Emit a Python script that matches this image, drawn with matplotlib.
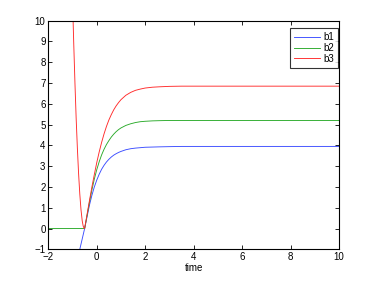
import matplotlib
matplotlib.use("Agg")
import matplotlib.pyplot as plt

plt.rcParams['font.family'] = ['Liberation Sans', 'DejaVu Sans']

# shared time grid for the rising part
t_rise = [-0.5, -0.4, -0.3, -0.2, -0.1, 0.0, 0.1, 0.2, 0.3, 0.4, 0.5, 0.6, 0.7,
          0.8, 0.9, 1.0, 1.2, 1.4, 1.6, 1.8, 2.0, 2.3, 2.6, 3.0, 3.5, 4.0, 5.0,
          6.0, 8.0, 10.0]

# b1 (blue)
t_b1 = [-0.75, -0.7, -0.6] + t_rise
y_b1 = [-1.25, -1.0, -0.5,
        0.0, 0.57, 1.13, 1.6, 2.0, 2.33, 2.61, 2.85, 3.04, 3.2, 3.33, 3.44, 3.53,
        3.6, 3.66, 3.71, 3.79, 3.84, 3.87, 3.89, 3.91, 3.92, 3.93, 3.94, 3.95,
        3.95, 3.95, 3.95, 3.95, 3.95]

# b2 (green)
t_b2 = [-2.0] + t_rise
y_b2 = [0.0,
        0.0, 0.63, 1.27, 1.86, 2.38, 2.83, 3.21, 3.54, 3.81, 4.04, 4.23, 4.4,
        4.54, 4.66, 4.76, 4.84, 4.96, 5.04, 5.1, 5.14, 5.16, 5.18, 5.19, 5.2,
        5.2, 5.2, 5.2, 5.2, 5.2, 5.2]

# b3 (red)
t_b3 = [-1.05, -1.0, -0.95, -0.9, -0.85, -0.8, -0.75, -0.7, -0.65, -0.6,
        -0.56, -0.53] + t_rise
y_b3 = [13.4, 11.0, 8.9, 7.0, 5.3, 3.87, 2.65, 1.66, 0.9, 0.37,
        0.12, 0.03,
        0.0, 0.68, 1.35, 2.0, 2.6, 3.17, 3.68, 4.14, 4.55, 4.91, 5.22, 5.48,
        5.71, 5.9, 6.06, 6.2, 6.41, 6.55, 6.65, 6.71, 6.76, 6.8, 6.82, 6.84,
        6.85, 6.85, 6.85, 6.85, 6.85, 6.85]

labels = ['b1', 'b2', 'b3']
colors = ['#3a4cff', '#2aaa2a', '#ff2a2a']

fig = plt.figure(figsize=(3.74, 2.81), dpi=100)
ax = fig.add_axes([48.3 / 374, 1 - 249.3 / 281, (339 - 48.3) / 374, (249.3 - 20.7) / 281])

for t, y, lab, c in zip([t_b1, t_b2, t_b3], [y_b1, y_b2, y_b3], labels, colors):
    ax.plot(t, y, color=c, lw=0.65, label=lab)

ax.set_xlim(-2, 10)
ax.set_ylim(-1, 10)
ax.set_xticks(range(-2, 11, 2))
ax.set_yticks(range(-1, 11))
ax.tick_params(direction='in', top=True, right=True, length=3, width=0.6,
               labelsize=7, pad=2)
for s in ax.spines.values():
    s.set_linewidth(0.8)
ax.set_xlabel('time', fontsize=7, labelpad=1)

leg = ax.legend(loc='upper right', bbox_to_anchor=(0.9976, 1 - 7.6 / 228.6),
                fontsize=7, frameon=True, fancybox=False,
                edgecolor='black', borderpad=0.4, handlelength=2.7,
                labelspacing=0.08, handletextpad=0.4, borderaxespad=0.0)
leg.get_frame().set_linewidth(0.8)

fig.savefig('out.png', dpi=100)
